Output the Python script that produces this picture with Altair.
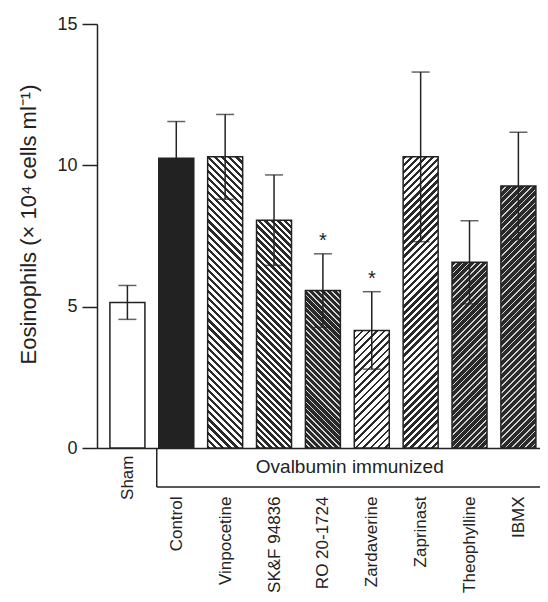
import math
import altair as alt
import pandas as pd

# ---- data ----
groups = ["Sham", "Control", "Vinpocetine", "SK&F 94836", "RO 20-1724",
          "Zardaverine", "Zaprinast", "Theophylline", "IBMX"]
means = [5.15, 10.25, 10.3, 8.06, 5.57, 4.16, 10.3, 6.57, 9.27]
sems = [0.6, 1.3, 1.5, 1.6, 1.3, 1.37, 3.0, 1.47, 1.9]
significant = [False, False, False, False, True, True, False, False, False]
y_ticks = [0, 5, 10, 15]
group_label = "Ovalbumin immunized"

# ---- styles ----
INK = "#222222"
FONT = "Liberation Sans"
PLOT_W, PLOT_H = 443, 424
Y_MAX = 15
BAR_W = 35
X_DOMAIN = [-0.52, 8.34]
BRACKET_START = 0.6
PX_PER_UNIT = PLOT_H / Y_MAX

# per-bar fill style: (kind, direction, period px, dark fraction, fg, bg)
styles = [
    ("solid", None, 0, 0, "white", "white"),
    ("solid", None, 0, 0, INK, INK),
    ("hatch", "\\", 5.0, 0.45, "#2a2a2a", "#ffffff"),
    ("hatch", "\\", 4.6, 0.55, "#2a2a2a", "#ffffff"),
    ("hatch", "\\", 4.2, 0.70, "#2a2a2a", "#d8d8d8"),
    ("hatch", "/", 5.2, 0.35, "#2a2a2a", "#ffffff"),
    ("hatch", "/", 5.0, 0.50, "#2a2a2a", "#ffffff"),
    ("hatch", "/", 4.4, 0.72, "#2a2a2a", "#d0d0d0"),
    ("hatch", "/", 4.6, 0.76, "#2a2a2a", "#d0d0d0"),
]


def hatch_fill(direction, period, frac, fg, bg, value):
    w = BAR_W
    h = max(value * PX_PER_UNIT, 1)
    L = w + h
    c = L / (w * w + h * h)
    if direction == "/":
        x1, y1, x2, y2 = 0, 0, c * w, c * h
    else:
        x1, y1, x2, y2 = 0, 1, c * w, 1 - c * h
    step = period * math.sqrt(2) / L
    stops = []
    k = 0
    while k * step < 1:
        a = k * step
        b = min((k + frac) * step, 1)
        e = min((k + 1) * step, 1)
        stops += [
            {"offset": round(a, 5), "color": fg},
            {"offset": round(b, 5), "color": fg},
            {"offset": round(b, 5), "color": bg},
            {"offset": round(e, 5), "color": bg},
        ]
        k += 1
    return {"gradient": "linear", "x1": x1, "y1": y1, "x2": x2, "y2": y2,
            "stops": stops}


df = pd.DataFrame({
    "idx": list(range(len(groups))),
    "group": groups,
    "mean": means,
    "lo": [m - s for m, s in zip(means, sems)],
    "hi": [m + s for m, s in zip(means, sems)],
    "sig": significant,
})

label_expr = "[" + ",".join("'" + g + "'" for g in groups) + "][datum.value]"

x_scale = alt.Scale(domain=X_DOMAIN, nice=False, zero=False)
y_scale = alt.Scale(domain=[0, Y_MAX], nice=False)

x_axis = alt.Axis(
    values=list(range(len(groups))), labelExpr=label_expr, title=None,
    ticks=False, grid=False, labelAngle=270, labelAlign="right",
    labelBaseline="middle", labelFontSize=17, labelFont=FONT,
    labelColor=INK, labelOverlap=False, labelBound=False, labelFlush=False,
    labelPadding={"condition": {"test": "datum.value == 0", "value": 7},
                  "value": 48},
    domainColor=INK, domainWidth=1.5,
)
y_axis = alt.Axis(
    values=y_ticks, grid=False, tickSize=15, tickWidth=1.5, tickColor=INK,
    domainColor=INK, domainWidth=1.5, labelFontSize=18, labelFont=FONT,
    labelColor=INK, labelPadding=5,
    title="Eosinophils (× 10⁴ cells ml⁻¹)", titleFont=FONT,
    titleFontSize=22, titleFontWeight="normal", titleColor=INK,
    titleAngle=270, titleX=-69, titleY=200, titleAlign="center",
    titleBaseline="middle",
)

base = alt.Chart(df)
X = alt.X("idx:Q", scale=x_scale, axis=x_axis)

layers = []
for i, st in enumerate(styles):
    kind, direction, period, frac, fg, bg = st
    if kind == "solid":
        fill = fg
    else:
        fill = hatch_fill(direction, period, frac, fg, bg, means[i])
    layers.append(
        base.transform_filter(alt.datum.idx == i)
        .mark_bar(size=BAR_W, orient="vertical", fill=fill, stroke=INK,
                  strokeWidth=1.5)
        .encode(x=X, y=alt.Y("mean:Q", scale=y_scale, axis=y_axis))
    )

errs = base.mark_errorbar(
    color=INK, thickness=1.5,
    ticks={"size": 18, "thickness": 1.5, "color": INK},
).encode(x=X, y=alt.Y("lo:Q", scale=y_scale, axis=y_axis), y2="hi:Q")

stars = base.transform_filter("datum.sig").mark_text(
    text="*", fontSize=20, font=FONT, color=INK, dy=-7,
    baseline="alphabetic", align="center",
).encode(x=X, y=alt.Y("hi:Q", scale=y_scale, axis=y_axis))

anno = alt.Chart(pd.DataFrame({"k": [0]}))
bracket_v = anno.mark_rule(color=INK, strokeWidth=1.5).encode(
    x=alt.datum(BRACKET_START), y=alt.value(PLOT_H), y2=alt.value(PLOT_H + 39))
bracket_h = anno.mark_rule(color=INK, strokeWidth=1.5).encode(
    x=alt.datum(BRACKET_START), x2=alt.value(PLOT_W), y=alt.value(PLOT_H + 39))
bracket_t = anno.mark_text(
    text=group_label, fontSize=19, font=FONT, color=INK,
    align="center", baseline="middle",
).encode(x=alt.datum(4.55), y=alt.value(PLOT_H + 19))

chart = alt.layer(*layers, errs, stars, bracket_v, bracket_h, bracket_t).properties(
    width=PLOT_W, height=PLOT_H,
    autosize=alt.AutoSizeParams(type="none"),
    padding={"left": 89, "top": 16, "right": 0, "bottom": 146},
    background="white",
).configure_view(strokeWidth=0)

chart.save("out.html", embed_options={"renderer": "svg", "actions": False})
